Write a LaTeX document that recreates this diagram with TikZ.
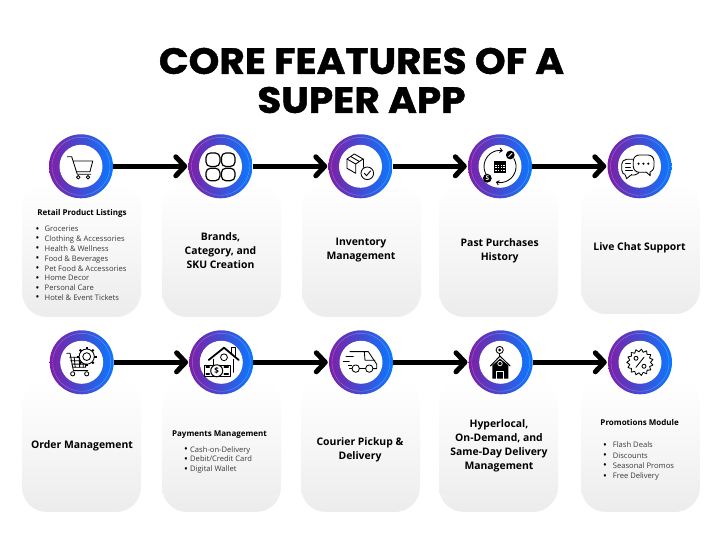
\documentclass[tikz,border=0pt]{standalone}
\usepackage{fontspec}
\setmainfont{Open Sans}
\newfontfamily\titlefont[FakeStretch=1.07,FakeBold=1.2]{Poppins}
\usetikzlibrary{arrows.meta}
\definecolor{ringL}{HTML}{7D1FA6}
\definecolor{ringR}{HTML}{0A78FF}
\definecolor{cardB}{HTML}{ECECEC}
\definecolor{itemC}{HTML}{3A3A3A}
\newcommand\bul[2]{\makebox[#1][l]{\color{black}\fontsize{10}{9}\selectfont\raisebox{-.4pt}{\textbullet}}#2}
\tikzset{
  cardbox/.style={minimum width=119pt,inner sep=0pt,outer sep=0pt,rounded corners=25pt,top color=white,bottom color=cardB,middle color=white!55!cardB,shading angle=0},
  ring/.style={circle,minimum size=64pt,inner sep=0pt,outer sep=0pt,left color=ringL,right color=ringR},
  hole/.style={circle,minimum size=43pt,inner sep=0pt,fill=white},
  halo/.style={circle,minimum size=58pt,inner sep=0pt,draw=white,draw opacity=.3,line width=.4pt},
  flow/.style={line width=5pt,black,-{Straight Barb[round,length=9pt,width=19pt,line width=5pt]},shorten >=1.2pt},
  title/.style={inner sep=0pt,align=center,font=\titlefont\bfseries\fontsize{36.5}{39}\selectfont},
  head/.style={inner sep=0pt,align=center,font=\bfseries\fontsize{10.4}{14}\selectfont},
  subhead/.style={inner sep=0pt,align=center,font=\bfseries\fontsize{8}{9}\selectfont},
  items/.style={inner sep=0pt,anchor=west,align=left,text=itemC,font=\fontsize{7.6}{9.85}\selectfont},
  icoT/.style={line width=.85pt,line join=round,line cap=round},
}
\begin{document}
\begin{tikzpicture}[x=1pt,y=-1pt]
\useasboundingbox (0,0) rectangle (713,534);
\fill[white] (0,0) rectangle (713,534);
% title
\node[title] (ttlA) at (361.5,61) {CORE FEATURES OF A};
\node[title] (ttlB) at (361.5,100) {SUPER APP};
% cards
\node[cardbox,minimum height=134pt] (k1) at (81.5,250) {};
\node[cardbox,minimum height=134pt] (k2) at (221.5,250) {};
\node[cardbox,minimum height=134pt] (k3) at (361.5,250) {};
\node[cardbox,minimum height=134pt] (k4) at (498.5,250) {};
\node[cardbox,minimum height=131pt] (k5) at (640.5,248.5) {};
\node[cardbox,minimum height=132pt] (k6) at (81.5,446) {};
\node[cardbox,minimum height=132pt] (k7) at (221.5,446) {};
\node[cardbox,minimum height=132pt] (k8) at (360.5,446) {};
\node[cardbox,minimum height=132pt] (k9) at (498.5,446) {};
\node[cardbox,minimum height=132pt] (k10) at (640.5,446) {};
% rings
\foreach \n/\x/\y in {1/81/166.3,2/220.5/166.3,3/360.5/166.3,4/500/166.3,5/639.5/166.3,6/81.7/362.3,7/221.3/362.3,8/361/362.3,9/500.7/362.3,10/640/362.3}{
  \node[ring] (c\n) at (\x,\y) {};
  \node[halo] (g\n) at (\x,\y) {};
  \node[hole] (h\n) at (\x,\y) {};
}
% connectors
\draw[flow] (c1) -- (c2);
\draw[flow] (c2) -- (c3);
\draw[flow] (c3) -- (c4);
\draw[flow] (c4) -- (c5);
\draw[flow] (c6) -- (c7);
\draw[flow] (c7) -- (c8);
\draw[flow] (c8) -- (c9);
\draw[flow] (c9) -- (c10);
% texts
\node[subhead] (s1) at (82,213.5) {Retail Product Listings};
\node[items] (l1) at (35.5,263.5) {\bul{9pt}{Groceries}\\\bul{9pt}{Clothing \& Accessories}\\\bul{9pt}{Health \& Wellness}\\\bul{9pt}{Food \& Beverages}\\\bul{9pt}{Pet Food \& Accessories}\\\bul{9pt}{Home Decor}\\\bul{9pt}{Personal Care}\\\bul{9pt}{Hotel \& Event Tickets}};
\node[head] (t2) at (220.5,250.5) {Brands,\\Category, and\\SKU Creation};
\node[head] (t3) at (361,250.5) {Inventory\\Management};
\node[head] (t4) at (499.7,250.5) {Past Purchases\\History};
\node[head] (t5) at (639.5,247.5) {Live Chat Support};
\node[head] (t6) at (82,445.5) {Order Management};
\node[subhead] (s7) at (219.5,434.5) {Payments Management};
\node[items] (l7) at (184,460) {\bul{6pt}{Cash-on-Delivery}\\\bul{6pt}{Debit/Credit Card}\\\bul{6pt}{Digital Wallet}};
\node[head] (t8) at (360,449.5) {Courier Pickup \&\\Delivery};
\node[head] (t9) at (499,446) {Hyperlocal,\\On-Demand, and\\Same-Day Delivery\\Management};
\node[subhead] (s10) at (639.7,422.5) {Promotions Module};
\node[items,font=\fontsize{7.6}{10.3}\selectfont] (l10) at (603,461.2) {\bul{9.7pt}{Flash Deals}\\\bul{9.7pt}{Discounts}\\\bul{9.7pt}{Seasonal Promos}\\\bul{9.7pt}{Free Delivery}};
% --- icons ---
% cart
\begin{scope}[shift={(c1.center)},icoT]
\draw (-13.7,-9.6)--(-9.3,-9.6)--(-3.7,8)--(9.7,8);
\draw (-7.7,-5.3)--(11.7,-5.3)--(9,5.4)--(-4.7,5.4);
\draw (-2.7,11) circle[radius=1.8pt] (7,11) circle[radius=1.8pt];
\end{scope}
% grid
\begin{scope}[shift={(c2.center)},line width=1.2pt,rounded corners=4.5pt]
\draw (-14.5,-13.3) rectangle (-0.6,0.2);
\draw (0.9,-13.3) rectangle (14.5,0.2);
\draw (-14.5,1.9) rectangle (-0.6,14.4);
\draw (0.9,1.9) rectangle (14.5,14.4);
\end{scope}
% box
\begin{scope}[shift={(c3.center)},icoT]
\draw (-13.5,-7.3)--(-6.2,-12.3)--(2.5,-7.3)--(-4.8,-2.3)--cycle;
\draw (-13.5,-7.3)--(-13.5,2)--(-4.8,7)--(-4.8,-2.3);
\draw (2.5,-7.3)--(2.5,1);
\draw (-9.8,-9.8)--(-1.2,-4.8);
\draw[fill=white] (6.8,7) circle[radius=6.3pt];
\draw (3.8,7)--(6,9.4)--(10,4.6);
\end{scope}
% purchases cycle
\begin{scope}[shift={(c4.center)},icoT]
\draw[{Straight Barb[length=2.5pt,width=4.5pt]}-] (2.8,-15.5) arc[start angle=80,end angle=215,radius=16pt];
\draw[-{Straight Barb[length=2.5pt,width=4.5pt]}] (13.9,-7.7) arc[start angle=30,end angle=-105,radius=16pt];
\fill (-6,-5.6) rectangle (6,6.4);
\foreach \a in {-4,-1.3,1.3,4}{\foreach \b in {-0.8,1.6,4}{\fill[white] (\a-.6,\b-.5) rectangle (\a+.6,\b+.5);}}
\fill (10.3,-11.3) circle[radius=4.4pt];
\draw[white,line width=.8pt] (8.6,-9.6)--(12,-13);
\fill (-12.7,12) circle[radius=4.4pt];
\node[white,inner sep=0pt,font=\bfseries\fontsize{6.5}{7}\selectfont] (dol) at (-12.7,12) {S};
\end{scope}
% chat
\begin{scope}[shift={(c5.center)},icoT]
\draw[rounded corners=5pt,fill=white] (-17.8,-7) rectangle (0,8.7);
\draw[fill=white,line join=miter] (-14.5,8.2)--(-12.8,12.3)--(-8,8.2);
\draw[white,line width=1pt] (-13.6,8.4)--(-9,8.4);
\draw (-14,-2.4)--(-9,-2.4) (-14,1)--(-9,1) (-14,4.4)--(-7,4.4);
\draw[rounded corners=6pt,fill=white] (-6.2,-11.3) rectangle (14.5,6);
\draw[fill=white] (6.5,5.6)--(10.8,9.4)--(10.5,5.6);
\draw[white,line width=1pt] (7.4,5.6)--(10,5.6);
\fill (-1,-2.6) circle[radius=1.2pt] (3.9,-2.6) circle[radius=1.2pt] (8.8,-2.6) circle[radius=1.2pt];
\end{scope}
% order management
\begin{scope}[shift={(c6.center)},icoT]
\draw (-15,-9)--(-11.7,-9)--(-8.3,8.3)--(6,8.3);
\draw (-12,-5)--(3,-5)--(4,5)--(-9,5);
\draw (-7.5,-5)--(-6.5,5) (-2.5,-5)--(-2,5) (1.5,-5)--(1.5,5) (-11,-1.6)--(3.5,-1.6) (-10,1.8)--(3.8,1.8);
\draw (-9,11.5) circle[radius=2.1pt] (5,11.5) circle[radius=2.1pt];
\draw[fill=white] (5,-5.7) circle[radius=7.6pt];
\foreach \a in {0,45,...,315}{\draw[line width=2pt,line cap=butt] (\a:0)++(5,-5.7)++(\a:7.6)--++(\a:2.2);}
\draw (5,-5.7) circle[radius=3.9pt];
\end{scope}
% house and money
\begin{scope}[shift={(c7.center)},icoT]
\draw (9.7,-8.7)--(9.7,-14.6)--(13.7,-14.6)--(13.7,-5.6);
\draw[line width=1.8pt] (-12.6,-2.3)--(2.7,-14.6)--(17.4,-2.3);
\draw (-8,-3)--(-8,2.7) (12,-3)--(12,10);
\draw (2.7,-5) circle[radius=3.4pt];
\draw[fill=white] (-17.3,2.7) rectangle (9.4,14.3);
\draw[line width=1.6pt] (-15,5)--(-12,5) (-15,12)--(-12,12) (3,5)--(7,5) (3,12)--(7,12);
\draw[fill=white,line width=1pt] (-4.6,8.5) circle[radius=6pt];
\node[inner sep=0pt,font=\bfseries\fontsize{8}{8}\selectfont] (usd) at (-4.6,8.5) {\$};
\end{scope}
% van
\begin{scope}[shift={(c8.center)},icoT]
\draw (-11,-10.7)--(7.3,-10.7)--(15.7,2)--(15.7,6.3)--(12,6.3);
\draw (4.6,6.3)--(-1.7,6.3);
\draw (-9,6.3)--(-11.5,6.3);
\draw (3.3,-10.7)--(4,-2)--(14,-2);
\draw (-15,-5.7)--(-7.7,-5.7) (-17.7,-1.3)--(-11.7,-1.3) (-12.7,3)--(-9.3,3);
\draw (-5.3,6.3) circle[radius=3.7pt] (8.3,6.3) circle[radius=3.7pt];
\end{scope}
% hyperlocal
\begin{scope}[shift={(c9.center)},icoT]
\draw (-1,-12.3) circle[radius=3.6pt];
\fill (-1,-12.3) circle[radius=1.5pt];
\draw (-1,-8.7)--(-1,-6.4);
\fill (-8.3,3)--(-0.7,-3.6)--(7.7,3)--(7.7,16.4)--(-8.3,16.4)--cycle;
\draw[line width=1pt] (-10.2,3.6)--(-0.7,-6.2)--(9.3,3.6);
\draw[white,line width=.8pt] (-0.7,1.3) circle[radius=2.2pt];
\draw[white,line width=.8pt] (-4,16.4)--(-4,9)--(2.7,9)--(2.7,16.4);
\end{scope}
% promotions
\begin{scope}[shift={(c10.center)},icoT]
\draw plot[samples at={0,12,...,348}] (\x:{10.5+2.7*mod(\x,24)/12}) -- cycle;
\draw (-4,5)--(4,-5);
\draw (-4,-4) circle[radius=2pt] (4,4) circle[radius=2pt];
\end{scope}
\end{tikzpicture}
\end{document}
